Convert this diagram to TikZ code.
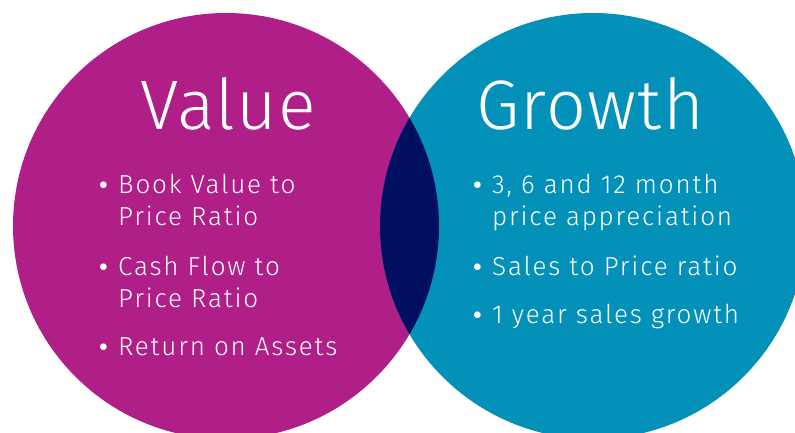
\documentclass[tikz,border=0pt]{standalone}
\usepackage{fontspec}
\setmainfont{Fira Sans}[UprightFont=* Light]
\definecolor{valuecol}{HTML}{B01E87}
\definecolor{growthcol}{HTML}{0391BA}
\definecolor{lenscol}{HTML}{000F60}
\tikzset{
  title/.style={text=white, font=\fontsize{70}{80}\selectfont\addfontfeatures{LetterSpace=2}, inner sep=0pt, anchor=base},
  item/.style={text=white, font=\fontsize{26}{32}\selectfont\addfontfeatures{LetterSpace=7}, inner sep=0pt, anchor=base west, align=left},
}
\newcommand{\bul}{\makebox[21pt][l]{\raisebox{-0.3em}{\scalebox{1.7}{\textbullet}}}}
\newcommand{\ind}{\hspace*{21pt}}
\begin{document}
\begin{tikzpicture}[x=1pt,y=-1pt]
\useasboundingbox (0,0) rectangle (795,433);
\clip (0,0) rectangle (795,433);
\fill[valuecol] (226,226) circle (213);
\fill[growthcol] (593,226) circle (213);
\begin{scope}
  \clip (226,226) circle (213);
  \fill[lenscol] (593,226) circle (213);
\end{scope}
\node[title] (tv) at (228,130) {Value};
\node[title] (tg) at (590,130) {Growth};
\node[item] (v1) at (97,225) {\bul Book Value to\\\ind Price Ratio};
\node[item] (v2) at (97,307) {\bul Cash Flow to\\\ind Price Ratio};
\node[item] (v3) at (97,355) {\bul Return on Assets};
\node[item] (g1) at (471,225) {\bul 3, 6 and 12 month\\\ind price appreciation};
\node[item] (g2) at (471,275) {\bul Sales to Price ratio};
\node[item] (g3) at (471,323) {\bul 1 year sales growth};
\end{tikzpicture}
\end{document}
